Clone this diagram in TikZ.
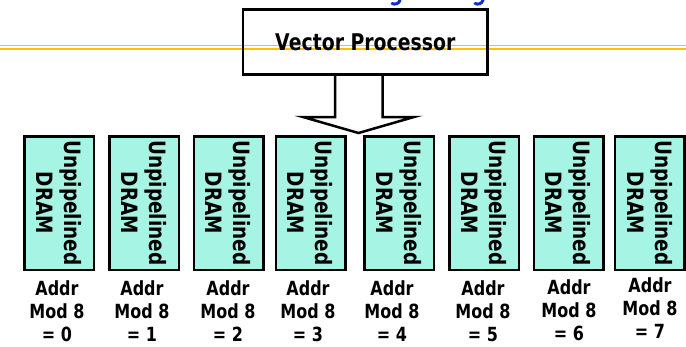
\documentclass[tikz,border=0pt]{standalone}
\usepackage{fontspec}
\newfontfamily\comic{DejaVu Sans}[FakeStretch=0.82]
\definecolor{gold}{RGB}{255,192,0}
\definecolor{dramfill}{RGB}{166,244,228}
\definecolor{titleblue}{RGB}{16,48,200}
\begin{document}
\begin{tikzpicture}[x=1pt,y=-1pt,
  proc/.style={draw, line width=2.7pt, minimum width=244.6pt, minimum height=65pt, inner sep=0pt,
    font=\comic\bfseries\fontsize{23}{28}\selectfont},
  dram/.style={draw, fill=dramfill, line width=2.5pt, rotate=-90, minimum width=133.5pt,
    minimum height=69.5pt, inner sep=0pt, align=center,
    font=\comic\bfseries\fontsize{22.5}{28}\selectfont},
  lbl/.style={align=center, inner sep=0pt, font=\comic\bfseries\fontsize{19.5}{23}\selectfont},
  rule/.style={draw=gold},
  bigarrow/.style={draw, fill=white, line width=2.5pt, line join=miter},
  hook/.style={draw=titleblue, line width=3pt, line cap=round}]
\useasboundingbox (0,0) rectangle (686,346);
% title fragments
\draw[hook] (400,0) .. controls (399.5,3.5) and (395,5) .. (392,3.5);
\draw[hook] (483,0) .. controls (482.5,3.5) and (478,5) .. (475,3.5);
% orange rules
\draw[rule, line width=1.2pt] (0,45.7) -- (686,45.7);
\draw[rule, line width=2.2pt] (0,48.6) -- (686,48.6);
% block arrow
\draw[bigarrow] (335,76) -- (335,117) -- (303,117) -- (358.5,133) -- (414,117) -- (382.7,117) -- (382.7,76);
% processor
\node[proc] (proc) at (365.3,42.2) {Vector Processor};
% DRAM banks
\node[dram] (d0) at (59,203) {Unpipelined\\DRAM};
\node[dram] (d1) at (144,203) {Unpipelined\\DRAM};
\node[dram] (d2) at (228.5,203) {Unpipelined\\DRAM};
\node[dram] (d3) at (310.5,203) {Unpipelined\\DRAM};
\node[dram] (d4) at (399,203) {Unpipelined\\DRAM};
\node[dram] (d5) at (484,203) {Unpipelined\\DRAM};
\node[dram] (d6) at (568.5,203) {Unpipelined\\DRAM};
\node[dram] (d7) at (649.8,203) {Unpipelined\\DRAM};
% labels
\node[lbl] (l0) at (57,311) {Addr\\Mod 8\\= 0};
\node[lbl] (l1) at (142,311) {Addr\\Mod 8\\= 1};
\node[lbl] (l2) at (228,311) {Addr\\Mod 8\\= 2};
\node[lbl] (l3) at (308,311) {Addr\\Mod 8\\= 3};
\node[lbl] (l4) at (392,311) {Addr\\Mod 8\\= 4};
\node[lbl] (l5) at (483,311) {Addr\\Mod 8\\= 5};
\node[lbl] (l6) at (569,310.5) {Addr\\Mod 8\\= 6};
\node[lbl] (l7) at (650,308.5) {Addr\\Mod 8\\= 7};
\end{tikzpicture}
\end{document}
